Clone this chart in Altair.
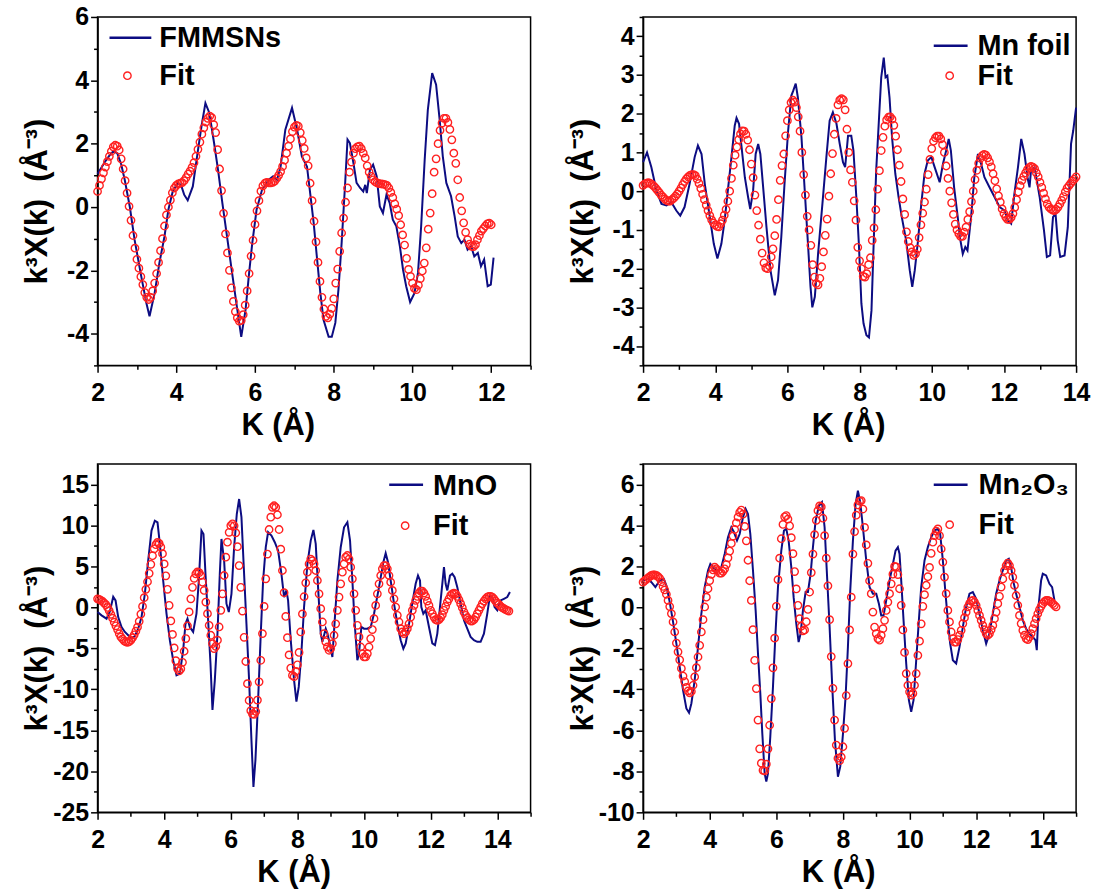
import altair as alt
import pandas as pd

# ---------------- data ----------------
FIT_STEP = 0.05

# Panel 1: FMMSNs
fmm_line = [(2.0, 1.05), (2.1, 1.25), (2.2, 1.45), (2.3, 1.62), (2.4, 1.76), (2.5, 1.70), (2.6, 1.35), (2.69, 0.86),
            (2.82, 0.00), (2.94, -1.03), (3.11, -2.19), (3.24, -3.03), (3.32, -3.45), (3.45, -2.72), (3.57, -1.77),
            (3.70, -0.93), (3.80, -0.08), (3.91, 0.49), (4.04, 0.76), (4.12, 0.70), (4.20, 0.39), (4.29, 0.21),
            (4.42, 0.65), (4.54, 1.70), (4.64, 2.55), (4.74, 3.28), (4.84, 2.97), (4.96, 2.02), (5.06, 1.18),
            (5.17, 0.13), (5.30, -1.03), (5.43, -2.19), (5.55, -3.24), (5.65, -4.10), (5.76, -3.24), (5.85, -2.08),
            (5.93, -1.14), (6.04, -0.08), (6.18, 0.55), (6.35, 0.86), (6.46, 0.97), (6.56, 0.86), (6.65, 1.28),
            (6.77, 2.44), (6.94, 3.13), (7.07, 2.44), (7.19, 1.60), (7.32, 1.28), (7.41, 0.34), (7.49, -0.50),
            (7.57, -1.56), (7.66, -2.72), (7.74, -3.56), (7.87, -4.10), (7.95, -4.10), (8.04, -3.66), (8.12, -2.60),
            (8.20, -1.14), (8.29, 0.76), (8.35, 2.13), (8.41, 2.02), (8.50, 1.39), (8.58, 0.76), (8.67, 0.60),
            (8.75, 0.49), (8.80, 0.70), (8.84, 0.44), (8.92, 1.18), (9.00, 1.34), (9.09, 0.97), (9.17, 0.02),
            (9.25, -0.19), (9.34, 0.39), (9.42, 0.13), (9.50, -0.40), (9.59, -0.61), (9.68, -1.24), (9.76, -1.98),
            (9.84, -2.50), (9.94, -3.00), (10.05, -2.72), (10.14, -2.08), (10.22, -0.61), (10.31, 1.49),
            (10.39, 3.07), (10.50, 4.23), (10.60, 3.86), (10.69, 2.76), (10.77, 1.60), (10.86, 0.76), (10.98, 0.34),
            (11.07, -0.29), (11.15, -0.93), (11.24, -1.14), (11.32, -1.03), (11.40, -1.35), (11.49, -1.24),
            (11.57, -1.56), (11.66, -1.45), (11.74, -1.87), (11.82, -1.66), (11.91, -2.50), (11.99, -2.45),
            (12.06, -1.60)]
fmm_fit_start = 2.0
fmm_fit = [0.49, 0.68, 0.89, 1.08, 1.26, 1.43, 1.60, 1.76, 1.90, 1.95, 1.92, 1.80, 1.52, 1.20, 0.83, 0.44, 0.02, -0.42, -0.90, -1.30,
           -1.65, -1.93, -2.20, -2.45, -2.70, -2.85, -2.92, -2.85, -2.65, -2.40, -2.10, -1.75, -1.38, -1.00, -0.60, -0.25, 0.00, 0.22, 0.45, 0.60,
           0.68, 0.73, 0.75, 0.77, 0.83, 0.93, 1.04, 1.13, 1.25, 1.40, 1.60, 1.82, 2.05, 2.30, 2.50, 2.68, 2.80, 2.87, 2.82, 2.60,
           2.35, 1.81, 1.20, 0.52, -0.20, -0.85, -1.45, -2.00, -2.55, -2.98, -3.30, -3.50, -3.60, -3.58, -3.40, -3.10, -2.65, -2.10, -1.55, -1.05,
           -0.55, -0.12, 0.20, 0.50, 0.67, 0.75, 0.78, 0.76, 0.76, 0.78, 0.82, 0.90, 1.00, 1.12, 1.28, 1.48, 1.70, 1.92, 2.15, 2.38,
           2.52, 2.58, 2.55, 2.35, 2.10, 1.85, 1.55, 1.30, 0.75, 0.20, -0.45, -1.10, -1.75, -2.35, -2.85, -3.22, -3.45, -3.50, -3.38, -3.20,
           -2.90, -2.40, -1.96, -1.40, -0.82, -0.35, 0.15, 0.60, 1.10, 1.42, 1.70, 1.84, 1.90, 1.92, 1.84, 1.70, 1.55, 1.30, 1.10, 0.97,
           0.86, 0.80, 0.76, 0.74, 0.73, 0.72, 0.71, 0.68, 0.60, 0.46, 0.30, 0.10, -0.07, -0.27, -0.56, -0.88, -1.20, -1.62, -1.97, -2.19,
           -2.40, -2.57, -2.61, -2.47, -2.26, -2.02, -1.77, -1.29, -0.70, -0.19, 0.42, 1.10, 1.52, 2.00, 2.42, 2.65, 2.80, 2.80, 2.67, 2.45,
           2.12, 1.70, 1.38, 0.86, 0.30, -0.12, -0.50, -0.80, -1.03, -1.17, -1.24, -1.25, -1.19, -1.03, -0.90, -0.76, -0.68, -0.60, -0.53, -0.51,
           -0.56]

# Panel 2: Mn foil
foil_line = [(2.0, 0.75), (2.11, 1.00), (2.23, 0.62), (2.37, 0.02), (2.51, -0.33), (2.65, -0.37), (2.78, -0.28), (2.92, -0.50),
             (3.03, -0.63), (3.15, -0.41), (3.29, 0.19), (3.43, 0.88), (3.52, 1.18), (3.62, 0.96), (3.71, 0.19), (3.85, -0.67),
             (3.96, -1.36), (4.06, -1.74), (4.17, -1.36), (4.26, -0.76), (4.35, 0.02), (4.45, 0.88), (4.54, 1.69), (4.59, 1.89),
             (4.66, 1.74), (4.72, 1.22), (4.82, 0.36), (4.91, -0.15), (4.97, -0.46), (5.05, 0.02), (5.12, 0.96), (5.19, 1.22),
             (5.25, 0.96), (5.32, 0.19), (5.42, -0.93), (5.53, -2.04), (5.65, -2.69), (5.74, -2.30), (5.83, -1.19), (5.92, 0.19),
             (6.02, 1.56), (6.11, 2.47), (6.16, 2.59), (6.23, 2.78), (6.29, 2.42), (6.39, 1.39), (6.48, 0.02), (6.57, -1.36),
             (6.64, -2.47), (6.69, -3.00), (6.76, -2.73), (6.85, -1.62), (6.97, -0.33), (7.08, 0.88), (7.17, 1.82), (7.26, 2.04),
             (7.36, 1.74), (7.45, 1.22), (7.54, 0.75), (7.60, 0.62), (7.68, 1.43), (7.77, 1.43), (7.83, 1.05), (7.91, -0.15),
             (7.98, -1.36), (8.05, -2.90), (8.11, -3.42), (8.19, -3.72), (8.26, -3.78), (8.33, -3.08), (8.39, -1.36), (8.46, 0.53),
             (8.54, 1.91), (8.60, 2.94), (8.67, 3.45), (8.72, 2.94), (8.77, 2.98), (8.83, 2.42), (8.90, 1.39), (8.99, 0.45),
             (9.08, -0.15), (9.17, -0.67), (9.29, -1.27), (9.39, -2.04), (9.46, -2.47), (9.53, -2.04), (9.62, -1.27), (9.71, -0.33),
             (9.80, 0.45), (9.89, 0.79), (9.99, 0.88), (10.08, 0.62), (10.22, 0.23), (10.31, 0.70), (10.40, 1.05), (10.47, 1.35),
             (10.53, 1.05), (10.62, 0.10), (10.72, -0.67), (10.78, -1.19), (10.86, -1.62), (10.93, -1.44), (10.99, -1.53),
             (11.09, -0.67), (11.18, 0.36), (11.28, 0.96), (11.37, 0.70), (11.46, 0.36), (11.60, 0.10), (11.74, -0.15),
             (11.88, -0.41), (12.02, -0.50), (12.11, -0.76), (12.20, -0.84), (12.29, -0.07), (12.39, 0.62), (12.48, 1.35),
             (12.57, 0.96), (12.66, 0.32), (12.71, 0.10), (12.75, 0.53), (12.85, 0.62), (12.99, -0.15), (13.11, -1.01),
             (13.19, -1.70), (13.28, -1.66), (13.36, -0.67), (13.43, -0.58), (13.49, -1.27), (13.56, -1.70), (13.68, -1.66),
             (13.77, -0.93), (13.86, 1.22), (13.92, 1.56), (14.0, 2.16)]
foil_fit_start = 2.0
foil_fit = [0.15, 0.19, 0.21, 0.22, 0.20, 0.17, 0.13, 0.08, 0.02, -0.04, -0.10, -0.15, -0.20, -0.24, -0.26, -0.26, -0.22, -0.18, -0.13, -0.07,
            0.00, 0.08, 0.17, 0.25, 0.32, 0.37, 0.41, 0.43, 0.43, 0.40, 0.31, 0.20, 0.07, -0.08, -0.22, -0.36, -0.50, -0.63, -0.74, -0.82,
            -0.87, -0.91, -0.92, -0.84, -0.75, -0.62, -0.47, -0.26, 0.00, 0.33, 0.67, 0.93, 1.14, 1.33, 1.48, 1.56, 1.55, 1.47, 1.32, 1.07,
            0.70, 0.35, -0.10, -0.50, -0.88, -1.24, -1.60, -1.85, -1.98, -2.00, -1.93, -1.70, -1.49, -1.15, -0.73, -0.22, 0.28, 0.66, 0.96, 1.43,
            1.82, 2.10, 2.29, 2.35, 2.30, 2.16, 1.92, 1.55, 1.00, 0.43, -0.10, -0.65, -1.00, -1.40, -1.90, -2.22, -2.38, -2.42, -2.25, -1.95,
            -1.57, -1.14, -0.72, -0.13, 0.45, 0.97, 1.47, 1.88, 2.23, 2.35, 2.39, 2.36, 2.10, 1.60, 1.00, 0.55, 0.23, -0.25, -0.75, -1.45,
            -1.80, -2.00, -2.20, -2.22, -2.13, -1.90, -1.72, -1.27, -0.95, -0.48, 0.05, 0.53, 1.05, 1.39, 1.68, 1.84, 1.91, 1.92, 1.86, 1.70,
            1.42, 1.07, 0.67, 0.25, -0.20, -0.60, -1.05, -1.30, -1.46, -1.57, -1.66, -1.62, -1.50, -1.20, -0.87, -0.57, -0.28, 0.05, 0.43, 0.82,
            1.10, 1.29, 1.38, 1.42, 1.42, 1.35, 1.20, 1.00, 0.65, 0.33, 0.00, -0.30, -0.60, -0.85, -1.00, -1.10, -1.17, -1.17, -1.06, -0.93,
            -0.73, -0.53, -0.27, 0.00, 0.30, 0.54, 0.72, 0.85, 0.92, 0.95, 0.93, 0.86, 0.76, 0.63, 0.45, 0.27, 0.06, -0.12, -0.28, -0.46,
            -0.58, -0.67, -0.73, -0.73, -0.68, -0.58, -0.42, -0.22, -0.02, 0.14, 0.28, 0.38, 0.47, 0.56, 0.61, 0.64, 0.62, 0.58, 0.47, 0.37,
            0.23, 0.10, -0.05, -0.20, -0.33, -0.41, -0.46, -0.49, -0.50, -0.47, -0.41, -0.33, -0.24, -0.14, -0.02, 0.08, 0.14, 0.20, 0.26, 0.31,
            0.37]

# Panel 3: MnO
mno_line = [(2.0, -0.57), (2.12, -0.97), (2.27, -1.38), (2.37, -0.50), (2.47, 1.30), (2.54, 0.85), (2.62, -1.18), (2.72, -2.39),
            (2.82, -3.00), (2.92, -3.40), (3.02, -3.80), (3.12, -3.50), (3.22, -2.60), (3.32, -1.18), (3.42, 1.66), (3.52, 5.70),
            (3.62, 9.37), (3.72, 10.58), (3.80, 10.38), (3.87, 7.75), (3.97, 3.28), (4.07, -0.77), (4.17, -4.00), (4.27, -6.45),
            (4.37, -8.27), (4.47, -8.07), (4.57, -5.23), (4.64, -2.00), (4.70, -1.38), (4.77, -2.39), (4.87, -3.00), (4.97, -0.77),
            (5.04, 3.28), (5.12, 9.37), (5.18, 8.96), (5.24, 4.10), (5.32, -1.58), (5.39, -6.85), (5.45, -12.50), (5.52, -8.90),
            (5.60, -3.20), (5.67, 4.10), (5.72, 8.35), (5.80, 5.70), (5.87, 0.45), (5.94, -0.57), (6.02, 1.66), (6.10, 7.34),
            (6.18, 11.39), (6.25, 13.22), (6.32, 11.00), (6.39, 4.90), (6.47, -2.00), (6.55, -8.90), (6.62, -16.20), (6.68, -21.90),
            (6.74, -18.60), (6.82, -11.30), (6.90, -3.20), (6.97, 3.28), (7.05, 7.34), (7.12, 9.17), (7.22, 8.76), (7.32, 7.95),
            (7.42, 6.93), (7.52, 4.10), (7.60, 1.26), (7.67, 2.07), (7.72, 0.85), (7.80, -4.00), (7.90, -8.90), (7.97, -11.50),
            (8.04, -9.70), (8.12, -5.50), (8.20, 0.04), (8.30, 5.30), (8.40, 8.15), (8.48, 9.45), (8.55, 7.75), (8.62, 2.47),
            (8.70, -3.20), (8.75, -4.20), (8.85, -2.60), (8.90, -3.20), (8.97, -4.40), (9.05, -6.05), (9.12, -1.58), (9.20, 3.28),
            (9.30, 7.34), (9.40, 9.77), (9.50, 10.38), (9.58, 8.15), (9.65, 3.28), (9.72, -2.00), (9.80, -6.45), (9.85, -5.64),
            (9.92, -2.39), (10.0, -2.60), (10.1, -2.60), (10.2, -2.39), (10.3, -0.77), (10.45, 2.47), (10.58, 5.50), (10.65, 6.60),
            (10.72, 5.50), (10.80, 3.28), (10.90, 0.45), (11.0, -2.00), (11.1, -4.00), (11.18, -5.03), (11.25, -4.40),
            (11.33, -2.60), (11.40, -0.77), (11.48, 1.26), (11.55, 2.88), (11.62, 3.89), (11.68, 3.28), (11.72, 0.04),
            (11.78, -0.77), (11.85, -0.36), (11.95, -2.39), (12.05, -4.40), (12.13, -4.60), (12.20, -3.20), (12.28, 0.04),
            (12.35, 2.88), (12.40, 4.90), (12.45, 2.88), (12.50, 2.07), (12.58, 3.89), (12.65, 4.10), (12.72, 3.69), (12.80, 2.47),
            (12.90, 0.45), (13.0, -1.58), (13.1, -2.60), (13.2, -3.60), (13.3, -4.00), (13.4, -4.20), (13.5, -4.20), (13.6, -3.20),
            (13.7, -0.77), (13.78, 1.46), (13.85, 1.26), (13.92, 0.04), (14.0, -0.36), (14.1, 0.85), (14.2, 1.05), (14.3, 1.26),
            (14.38, 1.87)]
mno_fit_start = 2.0
mno_fit = [1.05, 0.97, 0.86, 0.73, 0.53, 0.33, 0.00, -0.40, -0.85, -1.32, -1.80, -2.25, -2.70, -3.20, -3.60, -3.85, -4.08, -4.20, -4.26, -4.18,
           -4.00, -3.70, -3.35, -2.90, -2.40, -1.70, -0.82, 0.12, 1.18, 2.20, 3.13, 4.15, 5.25, 6.30, 7.14, 7.65, 7.92, 7.80, 7.35, 6.55,
           5.30, 3.85, 2.20, 0.25, -1.65, -3.30, -4.95, -6.50, -7.45, -7.75, -7.50, -6.70, -5.35, -3.80, -2.25, -0.55, 1.05, 2.45, 3.55, 4.10,
           4.33, 4.25, 3.89, 3.08, 2.07, 0.65, -0.77, -2.19, -3.40, -4.42, -5.03, -4.75, -4.00, -2.39, -0.36, 1.66, 3.89, 6.12, 7.95, 9.16,
           9.98, 10.20, 9.95, 9.10, 7.40, 5.10, 2.45, -0.45, -3.65, -6.60, -9.30, -11.35, -12.60, -13.00, -13.05, -12.70, -11.30, -9.08, -6.45, -3.20,
           0.12, 3.49, 6.50, 9.50, 11.00, 12.20, 12.40, 12.20, 11.30, 9.50, 7.10, 4.50, 1.80, -1.10, -3.70, -5.80, -7.40, -8.30, -8.45, -7.80,
           -7.00, -5.50, -3.00, -0.80, 1.30, 3.00, 4.30, 5.30, 5.90, 5.70, 5.30, 4.50, 3.28, 1.66, -0.16, -1.78, -3.20, -4.20, -4.83, -5.23,
           -5.03, -4.42, -3.40, -2.00, -0.36, 1.26, 2.88, 4.30, 5.30, 6.12, 6.33, 5.90, 4.90, 3.49, 1.66, -0.36, -2.19, -3.60, -4.83, -5.64,
           -6.05, -6.05, -5.64, -4.83, -3.80, -2.70, -1.38, 0.24, 1.66, 2.88, 3.89, 4.70, 5.10, 5.10, 4.70, 3.89, 3.08, 2.07, 1.05, 0.04,
           -0.97, -1.78, -2.60, -3.00, -3.20, -3.00, -2.60, -2.00, -1.18, -0.36, 0.24, 0.85, 1.34, 1.74, 1.99, 1.99, 1.74, 1.34, 0.77, 0.24,
           -0.36, -0.77, -1.18, -1.50, -1.58, -1.50, -1.26, -0.89, -0.36, 0.12, 0.65, 1.05, 1.46, 1.66, 1.74, 1.66, 1.34, 0.93, 0.45, -0.04,
           -0.57, -0.97, -1.26, -1.50, -1.66, -1.66, -1.50, -1.18, -0.77, -0.36, 0.04, 0.45, 0.77, 1.05, 1.26, 1.34, 1.34, 1.26, 1.05, 0.77,
           0.53, 0.36, 0.12, -0.04, -0.16, -0.28, -0.36, -0.45]

# Panel 4: Mn2O3
mn2o3_line = [(2.0, 1.31), (2.15, 1.39), (2.25, 1.23), (2.37, 0.99), (2.5, 1.31), (2.62, 1.39), (2.7, 1.07), (2.8, 0.26),
              (2.9, -0.71), (3.0, -1.77), (3.1, -2.90), (3.2, -4.04), (3.3, -4.93), (3.38, -5.14), (3.45, -4.69), (3.55, -3.55),
              (3.65, -1.93), (3.75, -0.31), (3.85, 0.99), (3.95, 1.80), (4.02, 2.12), (4.1, 1.96), (4.18, 1.80), (4.25, 1.80),
              (4.35, 1.96), (4.45, 2.61), (4.55, 3.42), (4.65, 3.91), (4.73, 3.67), (4.82, 3.26), (4.9, 3.58), (5.0, 4.40),
              (5.08, 4.80), (5.15, 4.56), (5.22, 3.58), (5.3, 1.80), (5.38, -0.15), (5.45, -2.25), (5.52, -4.20), (5.58, -6.15),
              (5.65, -8.10), (5.7, -8.50), (5.75, -8.10), (5.82, -6.30), (5.9, -3.88), (5.97, -1.44), (6.05, 0.99), (6.15, 2.77),
              (6.23, 3.75), (6.3, 3.83), (6.37, 3.26), (6.45, 1.96), (6.52, 0.50), (6.6, -0.79), (6.67, -1.69), (6.73, -1.28),
              (6.8, -0.15), (6.88, 0.75), (6.95, 0.75), (7.03, 1.64), (7.1, 2.94), (7.18, 4.23), (7.28, 4.96), (7.37, 5.13),
              (7.45, 3.91), (7.52, 1.64), (7.6, -0.96), (7.68, -3.88), (7.76, -6.47), (7.85, -8.26), (7.92, -7.77), (8.0, -6.20),
              (8.08, -4.36), (8.15, -1.93), (8.22, 0.83), (8.3, 3.26), (8.38, 5.04), (8.45, 5.69), (8.52, 5.12), (8.6, 3.91),
              (8.7, 2.29), (8.8, 0.99), (8.9, 0.67), (9.0, 0.67), (9.08, 0.18), (9.15, -0.39), (9.22, -0.39), (9.3, 0.34),
              (9.4, 1.31), (9.5, 2.12), (9.58, 2.77), (9.65, 2.94), (9.7, 2.61), (9.75, 1.31), (9.82, -0.63), (9.9, -2.74),
              (9.98, -4.53), (10.05, -5.09), (10.12, -4.53), (10.2, -2.58), (10.28, -0.63), (10.35, 0.99), (10.45, 2.29),
              (10.55, 2.94), (10.65, 3.42), (10.75, 3.75), (10.85, 3.83), (10.92, 3.58), (11.0, 2.29), (11.08, 0.67),
              (11.15, -0.63), (11.22, -1.77), (11.3, -2.58), (11.4, -2.74), (11.5, -1.93), (11.6, -0.96), (11.7, 0.02),
              (11.8, 0.67), (11.9, 0.75), (12.0, 0.42), (12.1, -0.31), (12.2, -1.12), (12.3, -1.77), (12.4, -1.28), (12.5, -0.31),
              (12.6, 0.67), (12.7, 1.31), (12.8, 1.80), (12.9, 2.29), (12.98, 2.37), (13.05, 1.96), (13.12, 1.23), (13.2, 0.67),
              (13.3, 0.02), (13.4, -0.63), (13.5, -1.04), (13.6, -1.28), (13.7, -1.44), (13.78, -1.60), (13.82, -2.09),
              (13.88, 0.18), (13.95, 1.31), (14.0, 1.64), (14.1, 1.56), (14.2, 1.15), (14.28, 0.99), (14.35, 0.34)]
mn2o3_fit_start = 2.0
mn2o3_fit = [1.23, 1.31, 1.37, 1.44, 1.50, 1.56, 1.59, 1.58, 1.56, 1.50, 1.42, 1.25, 1.02, 0.85, 0.64, 0.34, 0.04, -0.30, -0.71, -1.20,
             -1.74, -2.17, -2.56, -2.98, -3.35, -3.62, -3.90, -4.08, -4.17, -4.10, -3.80, -3.39, -2.94, -2.42, -1.85, -1.20, -0.60, 0.02, 0.50, 0.91,
             1.31, 1.61, 1.83, 1.96, 1.88, 1.80, 1.67, 1.67, 1.76, 1.88, 2.09, 2.42, 2.75, 3.12, 3.48, 3.80, 4.12, 4.41, 4.64, 4.75,
             4.55, 3.95, 3.25, 2.30, 1.30, 0.34, -1.09, -2.58, -3.96, -5.50, -6.90, -7.60, -7.95, -7.98, -7.65, -6.90, -5.75, -4.45, -2.95, -1.50,
             0.05, 1.35, 2.40, 3.35, 4.05, 4.42, 4.48, 4.31, 3.98, 3.40, 2.62, 1.75, 0.90, 0.10, -0.55, -0.92, -1.15, -1.10, -0.70, -0.10,
             0.75, 1.70, 2.60, 3.55, 4.25, 4.72, 4.95, 4.90, 4.35, 3.50, 2.40, 1.05, -0.60, -2.40, -3.95, -5.50, -6.72, -7.36, -7.48, -7.30,
             -6.80, -5.90, -4.30, -2.74, -1.10, 0.50, 2.60, 3.70, 4.50, 5.00, 5.18, 5.21, 4.80, 3.90, 3.05, 2.15, 1.30, 0.67, -0.23, -0.96,
             -1.28, -1.52, -1.60, -1.36, -1.04, -0.63, -0.15, 0.26, 0.67, 1.15, 1.62, 2.00, 1.98, 1.60, 0.91, 0.10, -1.10, -2.20, -3.23, -3.80,
             -4.12, -4.28, -4.20, -3.80, -3.23, -2.34, -1.65, -0.80, 0.05, 0.62, 1.08, 1.50, 1.95, 2.64, 3.18, 3.50, 3.72, 3.83, 3.50, 2.85,
             2.21, 1.48, 0.67, -0.15, -0.71, -1.20, -1.52, -1.69, -1.69, -1.57, -1.36, -1.12, -0.79, -0.50, -0.23, 0.02, 0.18, 0.31, 0.34, 0.26,
             0.10, -0.15, -0.39, -0.63, -0.88, -1.09, -1.28, -1.36, -1.28, -1.09, -0.88, -0.55, -0.23, 0.18, 0.54, 0.99, 1.39, 1.80, 2.04, 2.16,
             2.04, 1.80, 1.48, 1.07, 0.58, 0.10, -0.39, -0.79, -1.12, -1.36, -1.52, -1.57, -1.44, -1.28, -1.04, -0.79, -0.55, -0.31, -0.11, 0.05,
             0.18, 0.28, 0.34, 0.34, 0.31, 0.26, 0.18, 0.10, 0.02]

# axis ticks (major labelled, minor unlabelled)
x_ticks_p1 = [2, 3, 4, 5, 6, 7, 8, 9, 10, 11, 12, 13]
x_ticks_p2 = [2, 3, 4, 5, 6, 7, 8, 9, 10, 11, 12, 13, 14]
x_ticks_p34 = [2, 3, 4, 5, 6, 7, 8, 9, 10, 11, 12, 13, 14, 15]
y_ticks_p1 = [-5, -4, -3, -2, -1, 0, 1, 2, 3, 4, 5, 6]
y_ticks_p2 = [-4.5, -4, -3.5, -3, -2.5, -2, -1.5, -1, -0.5, 0, 0.5, 1, 1.5, 2, 2.5, 3, 3.5, 4, 4.5]
y_ticks_p3 = [-25, -22.5, -20, -17.5, -15, -12.5, -10, -7.5, -5, -2.5, 0, 2.5, 5, 7.5, 10, 12.5, 15]
y_ticks_p4 = [-10, -9, -8, -7, -6, -5, -4, -3, -2, -1, 0, 1, 2, 3, 4, 5, 6, 7]

names = ["FMMSNs", "Mn foil", "MnO", "Mn₂O₃"]
fit_label = "Fit"
x_title = "K (Å)"
y_title = "k³Χ(k)\u00a0\u00a0(Å⁻³)"

# ---------------- styling ----------------
FONT = "Liberation Sans"
NAVY = "#0c0c82"
RED = "#ff2020"
W, H = 435, 350
PT_SIZE = 55


def make_panel(line_pts, fit_start, fit_vals, name, xdom, ydom, xticks, yticks, xmaj, ymaj, leg, xtitle_x):
    ldf = pd.DataFrame(line_pts, columns=["k", "chi"])
    fdf = pd.DataFrame({"k": [round(fit_start + FIT_STEP * i, 3) for i in range(len(fit_vals))],
                        "chi": fit_vals})
    xaxis = alt.Axis(values=xticks, title=x_title, grid=False,
                     labelExpr=f"datum.value % {xmaj} == 0 ? toString(datum.value) : ''",
                     tickSize={"condition": {"test": f"datum.value % {xmaj} == 0", "value": 7}, "value": 4},
                     labelPadding=8, titleX=xtitle_x, titleY=45, titleAnchor="middle")
    yaxis = alt.Axis(values=yticks, title=y_title, grid=False,
                     labelExpr=f"datum.value % {ymaj} == 0 ? toString(datum.value) : ''",
                     tickSize={"condition": {"test": f"datum.value % {ymaj} == 0", "value": 7}, "value": 4},
                     labelPadding=2, titleX=-44, titleY=185)
    X = alt.X("k:Q", scale=alt.Scale(domain=xdom, nice=False, zero=False), axis=xaxis)
    Y = alt.Y("chi:Q", scale=alt.Scale(domain=ydom, nice=False, zero=False), axis=yaxis)

    line = alt.Chart(ldf).mark_line(color=NAVY, strokeWidth=2).encode(x=X, y=Y)
    pts = alt.Chart(fdf).mark_point(shape="circle", filled=False, color=RED, size=PT_SIZE,
                                    strokeWidth=1.4, opacity=1).encode(x=X, y=Y)

    one = pd.DataFrame({"label": [name], "fit": [fit_label]})
    (lx1, lx2, ly1), (cx, cy), tx, (ty1, ty2) = leg
    leg_rule = alt.Chart(one).mark_rule(color=NAVY, strokeWidth=2.5).encode(
        x=alt.value(lx1), x2=alt.value(lx2), y=alt.value(ly1))
    leg_pt = alt.Chart(one).mark_point(shape="circle", filled=False, color=RED, size=PT_SIZE,
                                       strokeWidth=1.4, opacity=1).encode(x=alt.value(cx), y=alt.value(cy))
    leg_t1 = alt.Chart(one).mark_text(align="left", baseline="middle", font=FONT, fontSize=29,
                                      fontWeight="bold", color="black").encode(
        x=alt.value(tx), y=alt.value(ty1), text="label:N")
    leg_t2 = alt.Chart(one).mark_text(align="left", baseline="middle", font=FONT, fontSize=29,
                                      fontWeight="bold", color="black").encode(
        x=alt.value(tx), y=alt.value(ty2), text="fit:N")
    return alt.layer(line, pts, leg_rule, leg_pt, leg_t1, leg_t2).properties(width=W, height=H)


p1 = make_panel(fmm_line, fmm_fit_start, fmm_fit, names[0], [2, 13], [-5, 6], x_ticks_p1, y_ticks_p1, 2, 2,
                ((12, 54, 21), (30, 59), 62, (21, 59)), 181)
p2 = make_panel(foil_line, foil_fit_start, foil_fit, names[1], [2, 14], [-4.5, 4.5], x_ticks_p2, y_ticks_p2, 2, 1,
                ((292, 326, 29), (308, 59), 336, (29, 59)), 206)
p3 = make_panel(mno_line, mno_fit_start, mno_fit, names[2], [2, 15], [-25, 17.5], x_ticks_p34, y_ticks_p3, 2, 5,
                ((293, 327, 21), (309, 62), 337, (22, 62)), 197)
p4 = make_panel(mn2o3_line, mn2o3_fit_start, mn2o3_fit, names[3], [2, 15], [-10, 7], x_ticks_p34, y_ticks_p4, 2, 2,
                ((292, 326, 21), (308, 61), 337, (21, 61)), 196)

chart = alt.concat(p1, p2, p3, p4, columns=2, spacing={"row": 99, "column": 113}, bounds="flush").properties(
    padding={"left": 21, "top": 2, "right": 5, "bottom": 5}, background="white"
).configure_view(stroke="black", strokeWidth=1.5).configure_axis(
    labelFont=FONT, labelFontSize=25, labelFontWeight="bold", labelColor="black",
    titleFont=FONT, titleFontSize=31, titleFontWeight="bold", titleColor="black",
    domainColor="black", domainWidth=1.5, tickColor="black", tickWidth=1.5,
    labelOverlap=False, labelFlush=False, labelBound=False)

chart.save("out.html", embed_options={"renderer": "svg", "actions": False})
